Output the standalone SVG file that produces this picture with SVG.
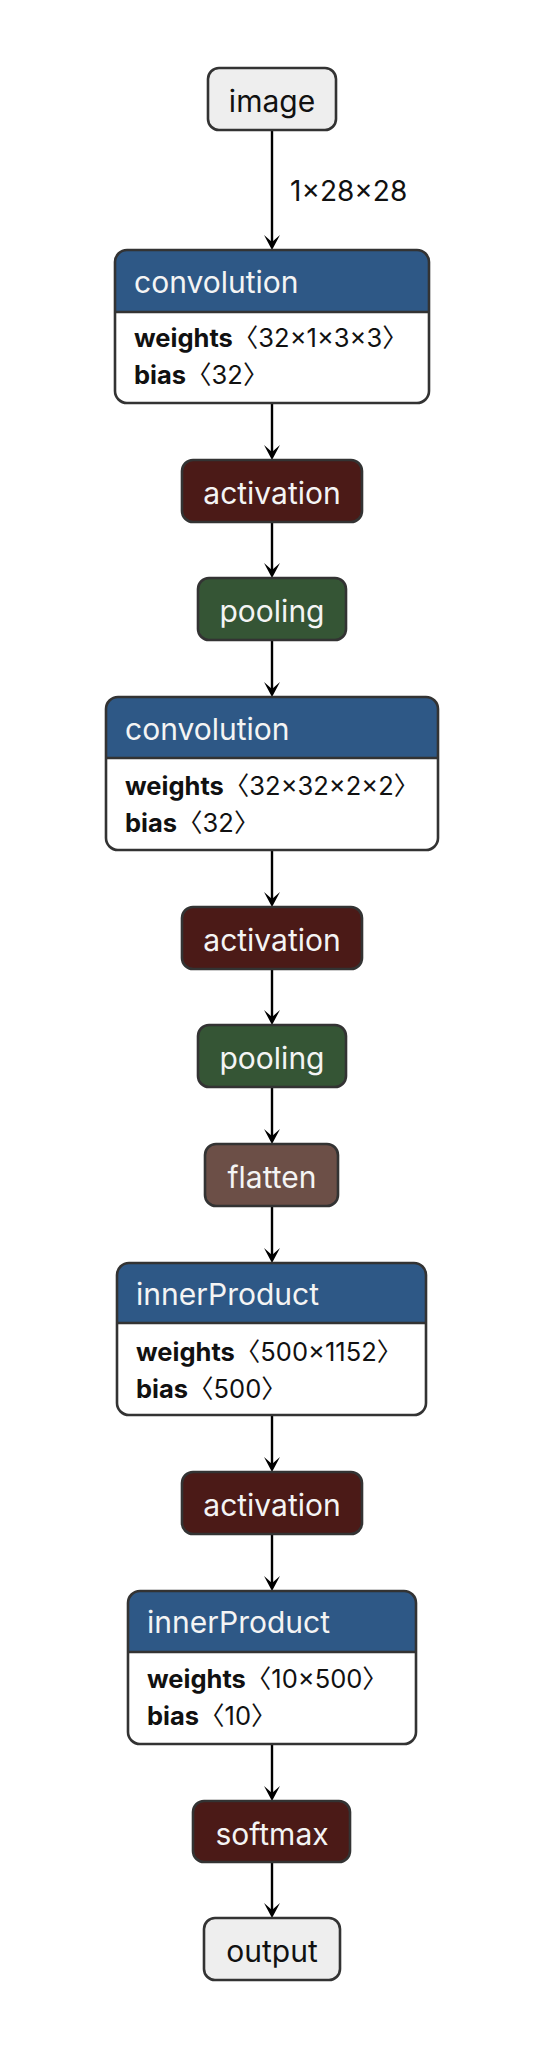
<svg xmlns="http://www.w3.org/2000/svg" width="556" height="2056" viewBox="0 0 556 2056">
<style>
.box{stroke:#333;stroke-width:2.6}
.name{font-family:Inter,"Noto Sans","DejaVu Sans",sans-serif;font-size:30px;fill:#f4f4f4;text-anchor:middle}
.dark{fill:#111}
.hname{font-family:Inter,"Noto Sans","DejaVu Sans",sans-serif;font-size:30px;fill:#f4f4f4}
.prop{font-family:Inter,"Noto Sans CJK SC","DejaVu Sans",sans-serif;font-size:25.5px;fill:#111}
.prop tspan.b{font-weight:bold}
.lbl{font-family:Inter,"Noto Sans","DejaVu Sans",sans-serif;font-size:28px;fill:#111}
.edge{stroke:#000;stroke-width:2.4;fill:none}
.hdr{fill:#2e5886}
.act{fill:#4b1a17}
.pool{fill:#355535}
.flat{fill:#6c4f47}
.io{fill:#eeeeee}
</style>
<defs>
<path id="ah" d="M0,0 L-8,-15 L0,-8 L8,-15 Z" fill="#000"/>
</defs>
<g id="connectors">
<line class="edge" x1="272" y1="131" x2="272" y2="244"/>
<use href="#ah" x="272" y="250"/>
<line class="edge" x1="272" y1="404" x2="272" y2="454"/>
<use href="#ah" x="272" y="460"/>
<line class="edge" x1="272" y1="523" x2="272" y2="572"/>
<use href="#ah" x="272" y="578"/>
<line class="edge" x1="272" y1="641" x2="272" y2="691"/>
<use href="#ah" x="272" y="697"/>
<line class="edge" x1="272" y1="851" x2="272" y2="901"/>
<use href="#ah" x="272" y="907"/>
<line class="edge" x1="272" y1="970" x2="272" y2="1019"/>
<use href="#ah" x="272" y="1025"/>
<line class="edge" x1="272" y1="1088" x2="272" y2="1138"/>
<use href="#ah" x="272" y="1144"/>
<line class="edge" x1="272" y1="1207" x2="272" y2="1257"/>
<use href="#ah" x="272" y="1263"/>
<line class="edge" x1="272" y1="1416" x2="272" y2="1466"/>
<use href="#ah" x="272" y="1472"/>
<line class="edge" x1="272" y1="1535" x2="272" y2="1585"/>
<use href="#ah" x="272" y="1591"/>
<line class="edge" x1="272" y1="1745" x2="272" y2="1795"/>
<use href="#ah" x="272" y="1801"/>
<line class="edge" x1="272" y1="1863" x2="272" y2="1912"/>
<use href="#ah" x="272" y="1918"/>
<text class="lbl" x="290" y="201">1×28×28</text>
</g>
<g id="image">
<rect class="box io" x="208" y="68" width="128" height="62" rx="11"/>
<text class="name dark" x="272" y="112">image</text>
</g>
<g id="convolution1">
<rect x="115" y="250" width="314" height="153" rx="12" fill="#fff"/>
<path class="hdr" d="M115,312 V262 A12,12 0 0 1 127,250 H417 A12,12 0 0 1 429,262 V312 Z"/>
<line x1="115" y1="312" x2="429" y2="312" stroke="#333" stroke-width="2.6"/>
<rect class="box" x="115" y="250" width="314" height="153" rx="12" fill="none"/>
<text class="hname" x="134" y="293">convolution</text>
<text class="prop" x="134" y="347"><tspan class="b">weights</tspan>〈32×1×3×3〉</text>
<text class="prop" x="134" y="384"><tspan class="b">bias</tspan>〈32〉</text>
</g>
<g id="activation1">
<rect class="box act" x="182" y="460" width="180" height="62" rx="11"/>
<text class="name" x="272" y="504">activation</text>
</g>
<g id="pooling1">
<rect class="box pool" x="198" y="578" width="148" height="62" rx="11"/>
<text class="name" x="272" y="622">pooling</text>
</g>
<g id="convolution2">
<rect x="106" y="697" width="332" height="153" rx="12" fill="#fff"/>
<path class="hdr" d="M106,758 V709 A12,12 0 0 1 118,697 H426 A12,12 0 0 1 438,709 V758 Z"/>
<line x1="106" y1="758" x2="438" y2="758" stroke="#333" stroke-width="2.6"/>
<rect class="box" x="106" y="697" width="332" height="153" rx="12" fill="none"/>
<text class="hname" x="125" y="740">convolution</text>
<text class="prop" x="125" y="795"><tspan class="b">weights</tspan>〈32×32×2×2〉</text>
<text class="prop" x="125" y="832"><tspan class="b">bias</tspan>〈32〉</text>
</g>
<g id="activation2">
<rect class="box act" x="182" y="907" width="180" height="62" rx="11"/>
<text class="name" x="272" y="951">activation</text>
</g>
<g id="pooling2">
<rect class="box pool" x="198" y="1025" width="148" height="62" rx="11"/>
<text class="name" x="272" y="1069">pooling</text>
</g>
<g id="flatten">
<rect class="box flat" x="205" y="1144" width="133" height="62" rx="11"/>
<text class="name" x="272" y="1188">flatten</text>
</g>
<g id="innerProduct1">
<rect x="117" y="1263" width="309" height="152" rx="12" fill="#fff"/>
<path class="hdr" d="M117,1323 V1275 A12,12 0 0 1 129,1263 H414 A12,12 0 0 1 426,1275 V1323 Z"/>
<line x1="117" y1="1323" x2="426" y2="1323" stroke="#333" stroke-width="2.6"/>
<rect class="box" x="117" y="1263" width="309" height="152" rx="12" fill="none"/>
<text class="hname" x="136" y="1305">innerProduct</text>
<text class="prop" x="136" y="1361"><tspan class="b">weights</tspan>〈500×1152〉</text>
<text class="prop" x="136" y="1398"><tspan class="b">bias</tspan>〈500〉</text>
</g>
<g id="activation3">
<rect class="box act" x="182" y="1472" width="180" height="62" rx="11"/>
<text class="name" x="272" y="1516">activation</text>
</g>
<g id="innerProduct2">
<rect x="128" y="1591" width="288" height="153" rx="12" fill="#fff"/>
<path class="hdr" d="M128,1652 V1603 A12,12 0 0 1 140,1591 H404 A12,12 0 0 1 416,1603 V1652 Z"/>
<line x1="128" y1="1652" x2="416" y2="1652" stroke="#333" stroke-width="2.6"/>
<rect class="box" x="128" y="1591" width="288" height="153" rx="12" fill="none"/>
<text class="hname" x="147" y="1633">innerProduct</text>
<text class="prop" x="147" y="1688"><tspan class="b">weights</tspan>〈10×500〉</text>
<text class="prop" x="147" y="1725"><tspan class="b">bias</tspan>〈10〉</text>
</g>
<g id="softmax">
<rect class="box act" x="193" y="1801" width="157" height="61" rx="11"/>
<text class="name" x="272" y="1845">softmax</text>
</g>
<g id="output">
<rect class="box io" x="204" y="1918" width="136" height="62" rx="11"/>
<text class="name dark" x="272" y="1962">output</text>
</g>
</svg>
